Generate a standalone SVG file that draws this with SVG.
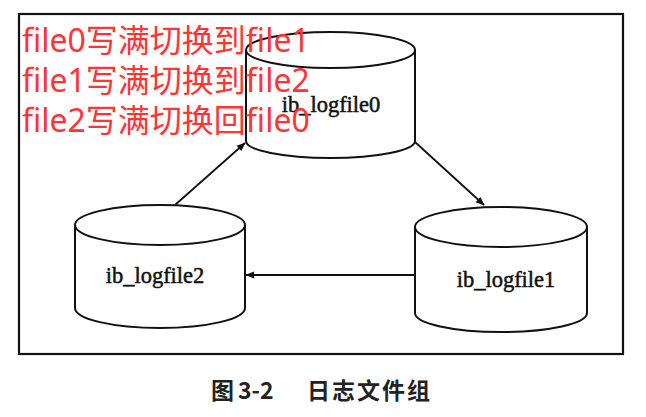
<svg xmlns="http://www.w3.org/2000/svg" width="646" height="417" viewBox="0 0 646 417">
<style>
.cyl{fill:#fff;stroke:#111;stroke-width:2}
.lbl{font-family:"Liberation Serif","Times New Roman",serif;font-size:22.5px;fill:#111;text-anchor:middle;stroke:#111;stroke-width:0.5}
.conn{stroke:#111;stroke-width:1.8;fill:none}
.red{font-family:"Noto Sans","Noto Sans CJK SC",sans-serif;font-size:32px;fill:#ff3535}
.cap{font-family:"Noto Sans CJK SC",sans-serif;font-size:23px;fill:#222;font-weight:bold}
</style>
<defs>
<marker id="ah" viewBox="0 0 10 10" refX="9" refY="5" markerWidth="11" markerHeight="9" markerUnits="userSpaceOnUse" orient="auto">
<path d="M0,1 L10,5 L0,9 z" fill="#111"/>
</marker>
</defs>
<rect x="0" y="0" width="646" height="417" fill="#fff"/>
<rect x="19" y="14" width="604" height="340" fill="none" stroke="#111" stroke-width="2.2"/>
<g id="connectors">
<line class="conn" x1="175" y1="205" x2="245" y2="143" marker-end="url(#ah)"/>
<line class="conn" x1="415" y1="142" x2="484" y2="205" marker-end="url(#ah)"/>
<line class="conn" x1="415" y1="275" x2="246" y2="275" marker-end="url(#ah)"/>
</g>
<g id="ib_logfile0">
<path class="cyl" d="M246,50 L246,141 A84.5,17 0 0 0 415,141 L415,50"/>
<ellipse class="cyl" cx="330.5" cy="50" rx="84.5" ry="18"/>
<text class="lbl" x="331" y="112">ib_logfile0</text>
</g>
<g id="ib_logfile2">
<path class="cyl" d="M75,225 L75,308 A85,20 0 0 0 245,308 L245,225"/>
<ellipse class="cyl" cx="160" cy="225" rx="85" ry="20"/>
<text class="lbl" x="155" y="283">ib_logfile2</text>
</g>
<g id="ib_logfile1">
<path class="cyl" d="M415,227 L415,313 A86,19 0 0 0 587,313 L587,227"/>
<ellipse class="cyl" cx="501" cy="227" rx="86" ry="20"/>
<text class="lbl" x="506" y="287">ib_logfile1</text>
</g>
<g id="notes">
<text class="red" x="22" y="52">file0写满切换到file1</text>
<text class="red" x="22" y="92">file1写满切换到file2</text>
<text class="red" x="22" y="132">file2写满切换回file0</text>
</g>
<g id="caption">
<text class="cap" x="211" y="399">图</text>
<text class="cap" x="238" y="399">3-2</text>
<text class="cap" x="307" y="399" textLength="123">日志文件组</text>
</g>
</svg>
